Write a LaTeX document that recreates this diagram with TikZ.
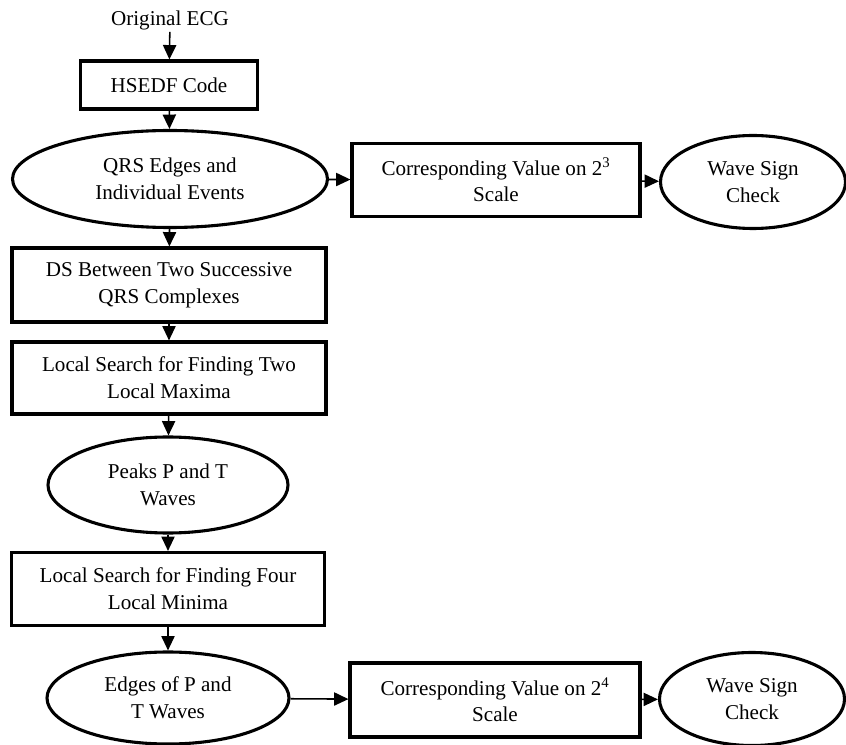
\documentclass[tikz,border=0pt]{standalone}
\usepackage{fontspec}
\setmainfont{Liberation Serif}
\usetikzlibrary{arrows.meta,shapes.geometric}

\tikzset{
  stage/.style={draw, line width=2.2pt, rectangle, align=center, inner sep=0pt,
    font=\fontsize{15}{19}\selectfont},
  result/.style={draw, line width=2.2pt, ellipse, align=center, inner sep=0pt,
    font=\fontsize{15}{19}\selectfont},
}

\begin{document}
\begin{tikzpicture}[>={Triangle[length=0.36cm,width=0.33cm]}, line width=1.1pt]
      \useasboundingbox (0,0) rectangle (21.15,-18.625);

      % 'input'
      \node at (4.25,-0.5) (ecg) [font=\fontsize{15}{19}\selectfont, inner sep=1pt] {Original ECG};

      % 'wavelet'
      \node at (4.225,-2.125) (hsedf) [stage, minimum width=4.425cm, minimum height=1.2cm] {HSEDF Code};
      \draw[->] (ecg) -- (hsedf);

      % 'QRS'
      \node at (4.25,-4.475) (qrs) [result, minimum width=7.875cm, minimum height=2.425cm] {QRS Edges and\\Individual Events};
      \draw[->] (hsedf) -- (qrs);

      \node at (12.4,-4.5) (scaleA) [stage, minimum width=7.2cm, minimum height=1.825cm] {Corresponding Value on 2\textsuperscript{3}\\Scale};
      \draw[->] (qrs) -- (scaleA);

      \node at (18.825,-4.55) (signA) [result, minimum width=4.625cm, minimum height=2.325cm] {Wave Sign\\Check};
      \draw[->] (scaleA) -- (signA);

      % 'search'
      \node at (4.225,-7.125) (ds) [stage, minimum width=7.85cm, minimum height=1.85cm] {DS Between Two Successive\\QRS Complexes};
      \draw[->] (qrs) -- (ds);

      \node at (4.225,-9.45) (maxima) [stage, minimum width=7.85cm, minimum height=1.8cm] {Local Search for Finding Two\\Local Maxima};
      \draw[->] (ds) -- (maxima);

      % 'peaks'
      \node at (4.2,-12.125) (peaks) [result, minimum width=6cm, minimum height=2.4cm] {Peaks P and T\\Waves};
      \draw[->] (maxima) -- (peaks);

      \node at (4.2,-14.725) (minima) [stage, minimum width=7.825cm, minimum height=1.825cm] {Local Search for Finding Four\\Local Minima};
      \draw[->] (peaks) -- (minima);

      % 'edges'
      \node at (4.2,-17.45) (edges) [result, minimum width=6.05cm, minimum height=2.3cm] {Edges of P and\\T Waves};
      \draw[->] (minima) -- (edges);

      \node at (12.375,-17.5) (scaleB) [stage, minimum width=7.25cm, minimum height=1.85cm] {Corresponding Value on 2\textsuperscript{4}\\Scale};
      \draw[->] (edges) -- (scaleB);

      \node at (18.8,-17.475) (signB) [result, minimum width=4.625cm, minimum height=2.325cm] {Wave Sign\\Check};
      \draw[->] (scaleB) -- (signB);
\end{tikzpicture}
\end{document}
